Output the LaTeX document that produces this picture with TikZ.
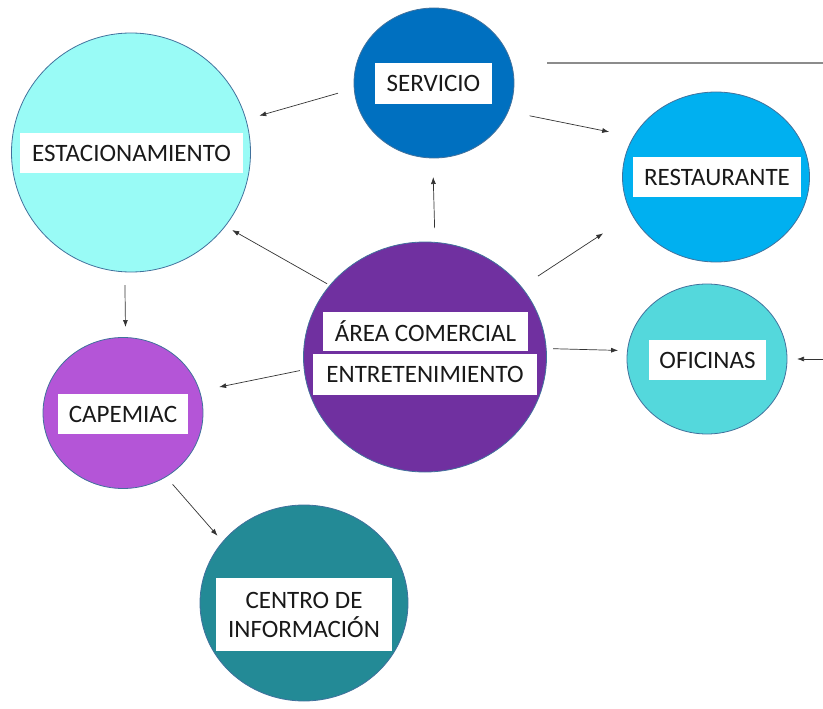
\documentclass[tikz,border=0pt]{standalone}
\usepackage{fontspec}
\setmainfont{Carlito}
\usetikzlibrary{shapes.geometric,arrows.meta}
\definecolor{cEst}{RGB}{153,251,246}
\definecolor{cServ}{RGB}{0,112,192}
\definecolor{cRest}{RGB}{0,176,240}
\definecolor{cArea}{RGB}{112,48,160}
\definecolor{cOfi}{RGB}{84,216,220}
\definecolor{cCap}{RGB}{180,85,215}
\definecolor{cCen}{RGB}{35,138,150}
\definecolor{cRim}{RGB}{65,113,156}
\begin{document}
\begin{tikzpicture}[x=1pt,y=-1pt,
  bubble/.style={ellipse,draw=cRim,line width=0.8pt,inner sep=0pt,outer sep=0pt},
  lbl/.style={fill=white,inner sep=0pt,outer sep=0pt,font=\fontsize{25}{29}\selectfont,align=center,text=black!90},
  conn/.style={-{Latex[length=7pt,width=5pt]},line width=0.7pt,draw=black!80}]
\useasboundingbox (0,0) rectangle (823,709);
% bubbles
\node[bubble,fill=cEst,minimum width=239pt,minimum height=239pt] (est) at (131,152.5) {};
\node[bubble,fill=cServ,minimum width=160pt,minimum height=150pt] (serv) at (434,83) {};
\node[bubble,fill=cRest,minimum width=187pt,minimum height=170pt] (rest) at (716,177) {};
\node[bubble,fill=cArea,minimum width=243pt,minimum height=230pt] (area) at (425,357) {};
\node[bubble,fill=cOfi,minimum width=160pt,minimum height=150pt] (ofi) at (707,359) {};
\node[bubble,fill=cCap,minimum width=160pt,minimum height=151pt] (cap) at (123,413) {};
\node[bubble,fill=cCen,minimum width=208pt,minimum height=196pt] (cen) at (304,603) {};
% labels
\node[lbl,minimum width=223pt,minimum height=40pt] (lest) at (131.5,153) {ESTACIONAMIENTO};
\node[lbl,minimum width=117pt,minimum height=41pt] (lserv) at (433.5,83.5) {SERVICIO};
\node[lbl,minimum width=168pt,minimum height=40pt] (lrest) at (717,177) {RESTAURANTE};
\node[lbl,minimum width=205pt,minimum height=39pt] (larea1) at (425.5,331.5) {ÁREA COMERCIAL};
\node[lbl,minimum width=224pt,minimum height=41pt] (larea2) at (425,374.5) {ENTRETENIMIENTO};
\node[lbl,minimum width=117pt,minimum height=40pt] (lofi) at (707.5,360) {OFICINAS};
\node[lbl,minimum width=130pt,minimum height=40pt] (lcap) at (123,414) {CAPEMIAC};
\node[lbl,minimum width=176pt,minimum height=73pt] (lcen) at (304,614.5) {CENTRO DE\\INFORMACIÓN};
% free ends
\coordinate (ofiin) at (823,359);
\coordinate (lineA) at (547,63);
\coordinate (lineB) at (823,63);
\draw[line width=2.5pt,draw=black!45] (lineA) -- (lineB);
% connectors
\draw[conn,shorten <=16.9pt,shorten >=13.9pt] (serv.184.8) -- (est.16.5);
\draw[conn,shorten <=3.3pt,shorten >=8.1pt] (area.143.8) -- (est.322.8);
\draw[conn,shorten <=22pt,shorten >=24.9pt] (serv.339.8) -- (rest.154.3);
\draw[conn,shorten <=14.3pt,shorten >=19pt] (area.85.4) -- (serv.269);
\draw[conn,shorten <=19.8pt,shorten >=34.5pt] (area.36.8) -- (rest.204.1);
\draw[conn,shorten <=13.2pt,shorten >=10.5pt] (est.267.1) -- (cap.88.5);
\draw[conn,shorten <=4.5pt,shorten >=20pt] (area.186.7) -- (cap.16.4);
\draw[conn,shorten <=6.9pt,shorten >=9.4pt] (area.4.4) -- (ofi.174.5);
\draw[conn,shorten >=10pt] (ofiin) -- (ofi.east);
\draw[conn,shorten <=10pt,shorten >=8pt] (cap.304.5) -- (cen.143.8);
\end{tikzpicture}
\end{document}
